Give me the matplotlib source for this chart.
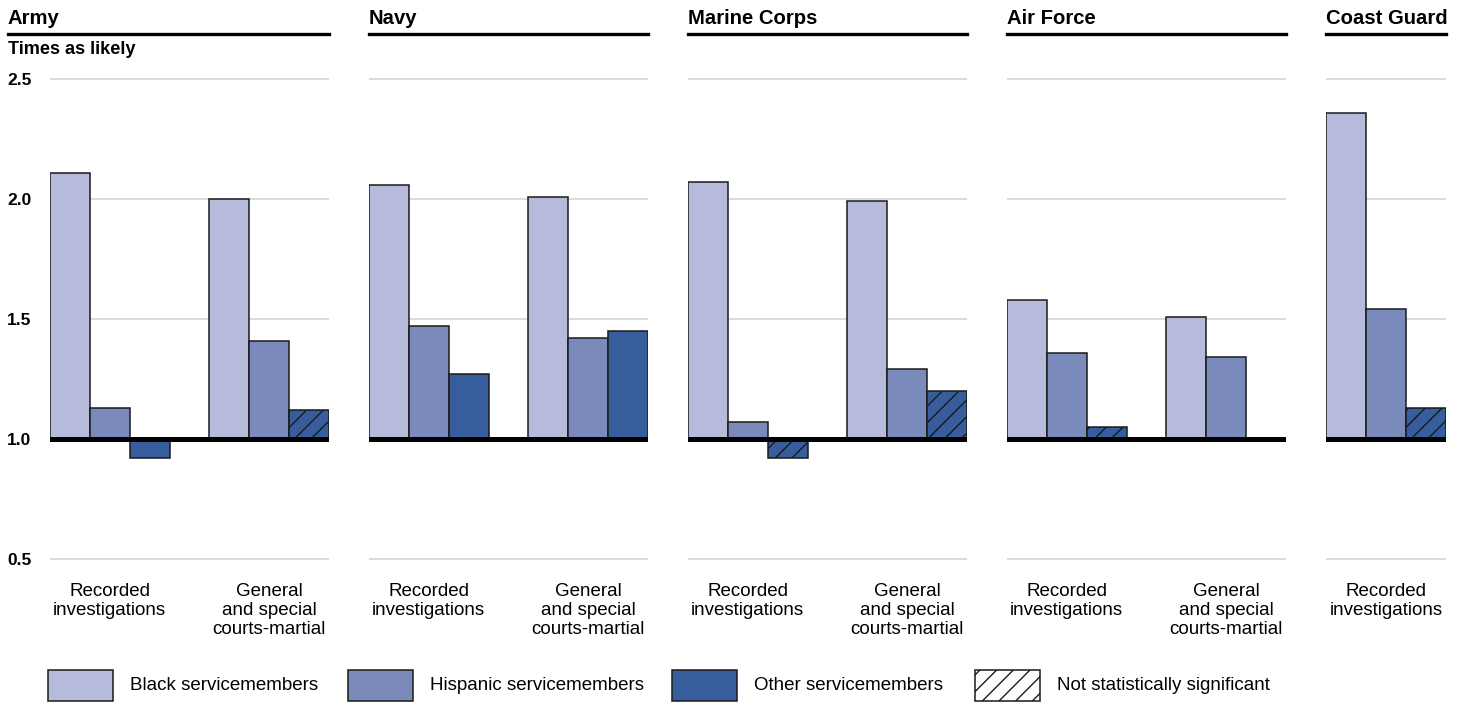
import matplotlib
matplotlib.use('Agg')
import matplotlib.pyplot as plt
from matplotlib.patches import Rectangle
from matplotlib.lines import Line2D

plt.rcParams['font.family'] = ['Liberation Sans', 'DejaVu Sans']
plt.rcParams['hatch.linewidth'] = 1.0

W, H = 1465, 702

# data (ratio vs. white servicemembers)
services = ["Army", "Navy", "Marine Corps", "Air Force", "Coast Guard"]
measures = ["Recorded\ninvestigations", "General\nand special\ncourts-martial"]
groups = ["Black servicemembers", "Hispanic servicemembers", "Other servicemembers"]

black_rec = [2.11, 2.06, 2.07, 1.58, 2.36]
hisp_rec = [1.13, 1.47, 1.07, 1.36, 1.54]
other_rec = [0.92, 1.27, 0.92, 1.05, 1.13]
other_rec_ns = [False, False, True, True, True]

black_cm = [2.00, 2.01, 1.99, 1.51, None]
hisp_cm = [1.41, 1.42, 1.29, 1.34, None]
other_cm = [1.12, 1.45, 1.20, None, None]
other_cm_ns = [True, False, True, False, False]

yticks = [0.5, 1.0, 1.5, 2.0, 2.5]
colors = ['#b7bbdb', '#7a8bbb', '#375d9d']

# panel left edges / widths in pixels
panel_left = [50, 369, 688, 1007, 1326]
panel_width = [279, 279, 279, 279, 120]
title_left = [8, 369, 688, 1007, 1326]

fig = plt.figure(figsize=(W / 100, H / 100), dpi=100)


def fx(px):
    return px / W


def fy(py):
    return 1 - py / H


ax_top, ax_bot = 67, 571

for i, svc in enumerate(services):
    ax = fig.add_axes([fx(panel_left[i]), fy(ax_bot), panel_width[i] / W, (ax_bot - ax_top) / H])
    ngroups = 2 if black_cm[i] is not None else 1
    ax.set_xlim(-0.5, 3 * ngroups + (ngroups - 1) - 0.5)
    ax.set_ylim(0.45, 2.55)
    for yt in yticks:
        ax.axhline(yt, color='#d4d4d4', lw=1.2, zorder=0)
    ax.axhline(1.0, color='black', lw=3.6, zorder=4)

    sets = [([black_rec[i], hisp_rec[i], other_rec[i]], other_rec_ns[i])]
    if ngroups == 2:
        sets.append(([black_cm[i], hisp_cm[i], other_cm[i]], other_cm_ns[i]))
    for g, (vals, ns) in enumerate(sets):
        for k, v in enumerate(vals):
            if v is None:
                continue
            hatch = '//' if (k == 2 and ns) else None
            ax.bar(g * 4 + k, v - 1, bottom=1, width=1, color=colors[k],
                   edgecolor='#1a1a1a', linewidth=1.1, hatch=hatch, zorder=3)
        ax.text(g * 4 + 1, 0.40, measures[g], ha='center', va='top', fontsize=13.5,
                linespacing=1.17, transform=ax.transData, clip_on=False)

    for s in ax.spines.values():
        s.set_visible(False)
    ax.set_xticks([])
    if i == 0:
        ax.set_yticks(yticks)
        ax.set_yticklabels([f"{t:.1f}" for t in yticks], fontsize=12.5, fontweight='bold')
        ax.tick_params(axis='y', length=0)
        for lab in ax.get_yticklabels():
            lab.set_horizontalalignment('left')
        ax.tick_params(axis='y', pad=31)
    else:
        ax.set_yticks([])

    # panel title and underline
    right = panel_left[i] + panel_width[i]
    fig.text(fx(title_left[i]), fy(19), svc, fontsize=14.6, fontweight='bold',
             ha='left', va='center')
    fig.add_artist(Line2D([fx(title_left[i]), fx(right)], [fy(34), fy(34)],
                          color='black', lw=2.4))

fig.text(fx(8), fy(49), "Times as likely", fontsize=13.1, fontweight='bold', ha='left', va='center')

# legend
leg_x = [48, 348, 672, 975]
leg_labels = groups + ["Not statistically significant"]
for j, lab in enumerate(leg_labels):
    if j < 3:
        fc, hatch = colors[j], None
    else:
        fc, hatch = 'white', '//'
    fig.add_artist(Rectangle((fx(leg_x[j]), fy(701)), 65 / W, 31 / H, transform=fig.transFigure,
                             facecolor=fc, edgecolor='#1a1a1a', lw=1.1, hatch=hatch))
    fig.text(fx(leg_x[j] + 82), fy(686), lab, fontsize=13.5, ha='left', va='center')

fig.savefig('out.png', dpi=100)
